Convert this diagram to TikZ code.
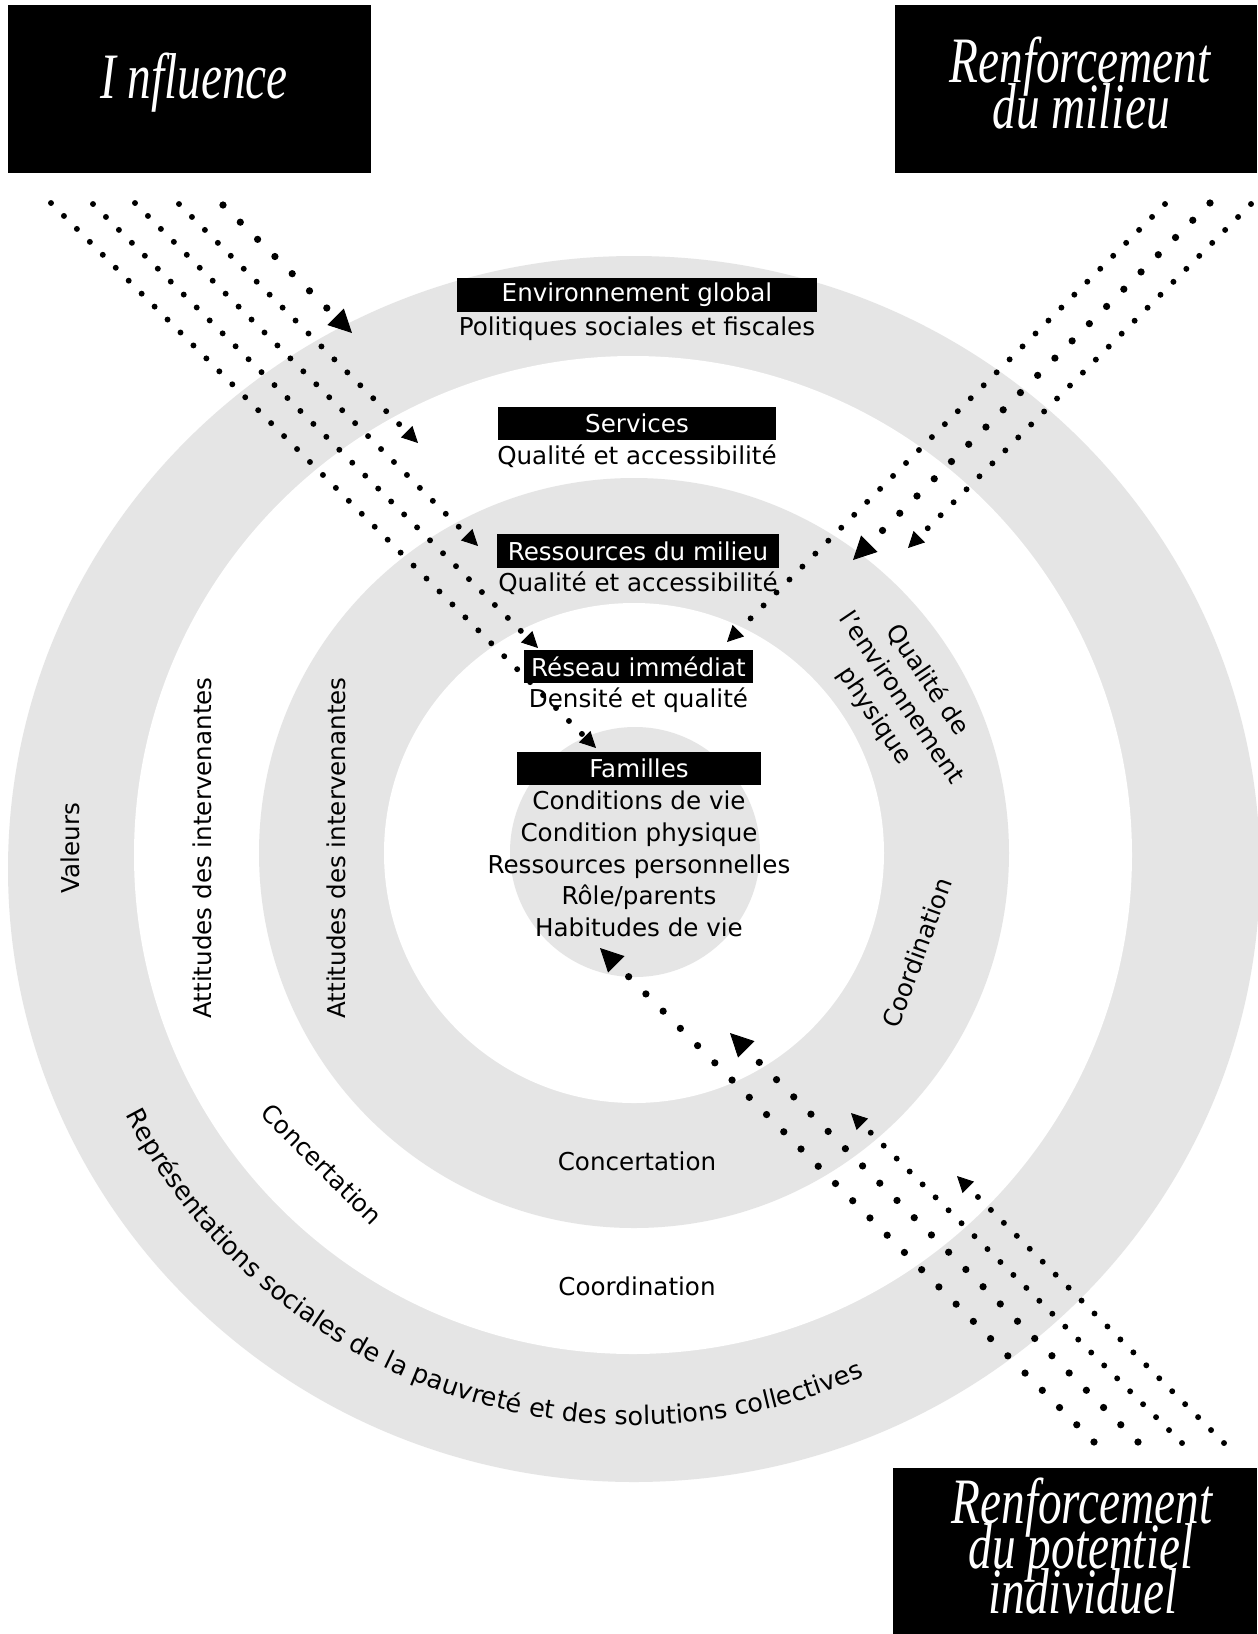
\documentclass[tikz,border=0pt]{standalone}
\usepackage{fontspec}
\setmainfont{DejaVu Sans}
\newfontfamily\headfont[FakeStretch=0.73]{Liberation Serif}
\usetikzlibrary{arrows.meta,positioning,decorations.text}
\definecolor{ringgray}{gray}{0.9}
\newcommand\labelsize{\fontsize{11.2}{14.5}\selectfont}
\newcommand\arcsize{\fontsize{11.6}{14.5}\selectfont}

\begin{document}
\begin{tikzpicture}[x=0.016cm, y=0.016cm, line join=round]
	\tikzset{
		blackbar/.style={fill=black, text=white, inner sep=0pt, minimum height=0.53cm, font=\labelsize},
		sublabel/.style={inner sep=0pt, font=\labelsize},
		ringlabel/.style={inner sep=0pt, font=\labelsize, align=center},
		headtext/.style={text=white, inner sep=0pt, font=\headfont\itshape\fontsize{29.5}{21}\selectfont},
		dotarrow/.style={line width=2.7pt, line cap=round, dash pattern=on 0pt off 8.34pt,
			-{Triangle[length=7.3pt,width=7.3pt,line width=0.4pt]}},
		bigdotarrow/.style={line width=3.3pt, line cap=round, dash pattern=on 0pt off 11.1pt,
			-{Triangle[length=10.5pt,width=10.5pt,line width=0.4pt]}}
	}
	\useasboundingbox (0,0) rectangle (1257,-1634);
	\fill[white] (0,0) rectangle (1257,-1634);
	% rings
	\fill[ringgray] (634,-869) ellipse [x radius=626, y radius=613];
	\fill[white] (633,-855) circle [radius=499];
	\fill[ringgray] (634,-853) circle [radius=375];
	\fill[white] (634,-853) circle [radius=250];
	\fill[ringgray] (635,-852) circle [radius=125];
	% title boxes
	\fill (8,-5) rectangle (371,-173);
	\node[headtext, anchor=base] (influence) at (194,-98) {I nfluence};
	\fill (895,-5) rectangle (1257,-173);
	\node[headtext, anchor=base] (renf1) at (1080,-82) {Renforcement};
	\node[headtext, anchor=base] (milieu) at (1081,-128) {du milieu};
	\fill (893,-1468) rectangle (1257,-1634);
	\node[headtext, anchor=base] (renf2) at (1082,-1523) {Renforcement};
	\node[headtext, anchor=base] (potentiel) at (1081,-1568) {du potentiel};
	\node[headtext, anchor=base] (individuel) at (1083,-1613) {individuel};
	% levels
	\node[blackbar, minimum width=5.76cm] (env) at (637,-295) {Environnement global};
	\node[sublabel, below=3.84mm of env.south, anchor=base] (envsub) {Politiques sociales et fiscales};
	\node[blackbar, minimum width=4.45cm] (serv) at (637,-423.5) {Services};
	\node[sublabel, below=3.84mm of serv.south, anchor=base] (servsub) {Qualité et accessibilité};
	\node[blackbar, minimum width=4.51cm] (ress) at (638,-551) {Ressources du milieu};
	\node[sublabel, below=3.84mm of ress.south, anchor=base] (resssub) {Qualité et accessibilité};
	\node[blackbar, minimum width=3.66cm] (res) at (638.5,-666.5) {Réseau immédiat};
	\node[sublabel, below=3.84mm of res.south, anchor=base] (ressub) {Densité et qualité};
	\node[blackbar, minimum width=3.9cm] (fam) at (639,-768.5) {Familles};
	\foreach \t [count=\i from 0] in {Conditions de vie, Condition physique, Ressources personnelles, {Rôle/parents}, Habitudes de vie}
	\node[sublabel, anchor=base] (fam\i) at ([yshift={-3.84mm-\i*5.09mm}]fam.south) {\t};
	% ring texts
	\node[ringlabel, rotate=90] (val) at (70,-848) {Valeurs};
	\node[ringlabel, rotate=90] (att1) at (202,-848) {Attitudes des intervenantes};
	\node[ringlabel, rotate=90] (att2) at (336,-848) {Attitudes des intervenantes};
	\node[ringlabel, rotate=-56] (qual) at (901,-698) {Qualité de\\l'environnement\\physique};
	\node[ringlabel, rotate=70] (coordr) at (917,-953) {Coordination};
	\node[ringlabel, rotate=-45] (concl) at (322,-1164) {Concertation};
	\node[ringlabel] (conc) at (637,-1161) {Concertation};
	\node[ringlabel] (coord) at (637,-1286) {Coordination};
	\path[decorate, decoration={text along path, text align=center,
		text={|\arcsize|Représentations sociales de la pauvreté et des solutions collectives}}]
		(634,-853) ++(195:572) arc [start angle=195, end angle=306, radius=572];
	% influence
	\coordinate (in1) at (51,-203);   \coordinate (in1-end) at (596,-748);
	\coordinate (in2) at (93,-204);   \coordinate (in2-end) at (538,-648);
	\coordinate (in3) at (135,-203);  \coordinate (in3-end) at (478,-546);
	\coordinate (in4) at (179,-204);  \coordinate (in4-end) at (418,-443);
	\coordinate (in5) at (223,-205);  \coordinate (in5-end) at (352,-333);
	\foreach \n in {1,2,3,4}
	\draw[dotarrow] (in\n) -- (in\n-end);
	\draw[bigdotarrow] (in5) -- (in5-end);
	% milieu
	\coordinate (mi1) at (1165,-204); \coordinate (mi1-end) at (727,-642);
	\coordinate (mi2) at (1210,-203); \coordinate (mi2-end) at (853,-560);
	\coordinate (mi3) at (1251,-204); \coordinate (mi3-end) at (908,-548);
	\foreach \n in {1,3}
	\draw[dotarrow] (mi\n) -- (mi\n-end);
	\draw[bigdotarrow] (mi2) -- (mi2-end);
	% potentiel individuel
	\coordinate (po1) at (1094,-1442); \coordinate (po1-end) at (600,-948);
	\coordinate (po2) at (1138,-1442); \coordinate (po2-end) at (730,-1033);
	\coordinate (po3) at (1182,-1443); \coordinate (po3-end) at (851,-1113);
	\coordinate (po4) at (1224,-1443); \coordinate (po4-end) at (957,-1176);
	\foreach \n in {1,2}
	\draw[bigdotarrow] (po\n) -- (po\n-end);
	\foreach \n in {3,4}
	\draw[dotarrow] (po\n) -- (po\n-end);
\end{tikzpicture}
\end{document}
